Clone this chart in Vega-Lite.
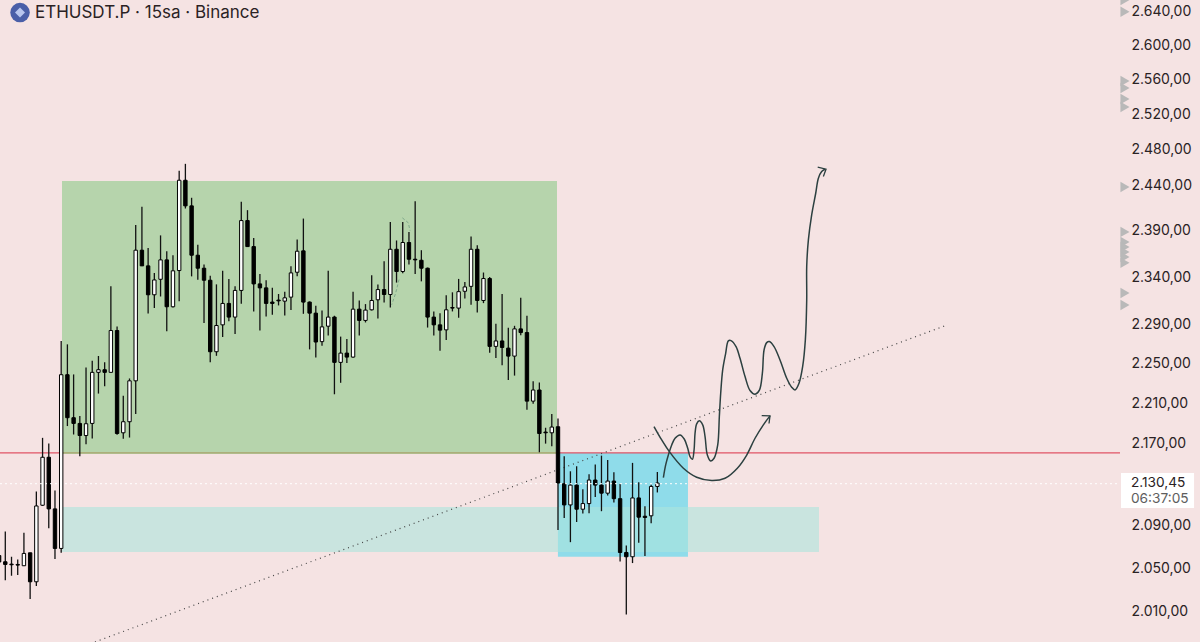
{
"$schema":"https://vega.github.io/schema/vega-lite/v6.json",
"width":1200,"height":642,"padding":0,"autosize":{"type":"none"},
"background":"#f5e3e3",
"config":{"view":{"stroke":null},"locale":{"number":{"decimal":",","thousands":".","grouping":[3],"currency":["",""]}}},
"resolve":{"axis":{"y":"independent"}},
"datasets":{
"candles":[
{"i":-1,"o":2062,"h":2067,"l":2053,"c":2056},
{"i":0,"o":2056.2,"h":2084.6,"l":2039,"c":2053.7},
{"i":1,"o":2054,"h":2060.9,"l":2043.2,"c":2053.4},
{"i":2,"o":2053.7,"h":2058.4,"l":2043.8,"c":2053.1},
{"i":3,"o":2052.5,"h":2083.6,"l":2052.2,"c":2064},
{"i":4,"o":2064.6,"h":2064.6,"l":2021.7,"c":2037.6},
{"i":5,"o":2037.6,"h":2122.9,"l":2033.8,"c":2109},
{"i":6,"o":2109.7,"h":2175.3,"l":2109,"c":2156.2},
{"i":7,"o":2156.2,"h":2169.6,"l":2087.8,"c":2106.2},
{"i":8,"o":2106.2,"h":2123.9,"l":2058.7,"c":2068.7},
{"i":9,"o":2068.7,"h":2273.2,"l":2064.6,"c":2238.6},
{"i":10,"o":2238.6,"h":2269.7,"l":2187,"c":2195.3},
{"i":11,"o":2195.3,"h":2238.9,"l":2178.6,"c":2189.6},
{"i":12,"o":2189.6,"h":2196.9,"l":2157.2,"c":2177.6},
{"i":13,"o":2177.6,"h":2246,"l":2169,"c":2189.3},
{"i":14,"o":2189.6,"h":2252.9,"l":2174.6,"c":2241},
{"i":15,"o":2241,"h":2257.7,"l":2219.5,"c":2243.7},
{"i":16,"o":2243.7,"h":2251.2,"l":2227,"c":2241},
{"i":17,"o":2241,"h":2330.3,"l":2241,"c":2284},
{"i":18,"o":2284,"h":2288.2,"l":2178.3,"c":2179.6},
{"i":19,"o":2180.3,"h":2217.4,"l":2174.3,"c":2191.3},
{"i":20,"o":2191.3,"h":2234.8,"l":2175.6,"c":2232.4},
{"i":21,"o":2232.4,"h":2396.2,"l":2199,"c":2368.9},
{"i":22,"o":2368.9,"h":2416,"l":2352.1,"c":2352.1},
{"i":23,"o":2352.1,"h":2371.4,"l":2301.8,"c":2321.4},
{"i":24,"o":2321.4,"h":2344.6,"l":2307.4,"c":2337.1},
{"i":25,"o":2337.8,"h":2384.9,"l":2319.6,"c":2358.5},
{"i":26,"o":2358.5,"h":2367.8,"l":2283.3,"c":2308.8},
{"i":27,"o":2308.8,"h":2363.5,"l":2308,"c":2346.8},
{"i":28,"o":2347.1,"h":2455.9,"l":2314.7,"c":2445.4},
{"i":29,"o":2445.4,"h":2463.7,"l":2414.2,"c":2417.1},
{"i":30,"o":2417.1,"h":2426,"l":2340.9,"c":2363.5},
{"i":31,"o":2363.5,"h":2374.7,"l":2337.4,"c":2349.6},
{"i":32,"o":2349.6,"h":2353.5,"l":2291.7,"c":2336.8},
{"i":33,"o":2336.8,"h":2341.6,"l":2251.2,"c":2262.1},
{"i":34,"o":2262.1,"h":2332.4,"l":2257.9,"c":2289.2},
{"i":35,"o":2289.9,"h":2346.8,"l":2277.4,"c":2312.3},
{"i":36,"o":2312.3,"h":2338.2,"l":2293.7,"c":2298},
{"i":37,"o":2298,"h":2330.3,"l":2280.4,"c":2326},
{"i":38,"o":2326,"h":2421.5,"l":2311.9,"c":2401},
{"i":39,"o":2401,"h":2412.4,"l":2372.6,"c":2372.8},
{"i":40,"o":2372.8,"h":2382,"l":2303.9,"c":2332.9},
{"i":41,"o":2332.9,"h":2343.5,"l":2284,"c":2328.7},
{"i":42,"o":2328.7,"h":2336.8,"l":2298.7,"c":2312.3},
{"i":43,"o":2313.7,"h":2328.7,"l":2300.4,"c":2312.3},
{"i":44,"o":2315.8,"h":2322.2,"l":2310.2,"c":2315},
{"i":45,"o":2314.7,"h":2324.7,"l":2299.7,"c":2318.2},
{"i":46,"o":2318.9,"h":2351.7,"l":2305.3,"c":2344.6},
{"i":47,"o":2345.3,"h":2380.5,"l":2340.9,"c":2367.8},
{"i":48,"o":2368.2,"h":2403.2,"l":2301.4,"c":2313.7},
{"i":49,"o":2313.7,"h":2314.4,"l":2264.5,"c":2302.1},
{"i":50,"o":2302.1,"h":2309.8,"l":2256.3,"c":2272.1},
{"i":51,"o":2272.5,"h":2304.9,"l":2268.2,"c":2287.8},
{"i":52,"o":2288.5,"h":2346.8,"l":2278.8,"c":2298},
{"i":53,"o":2298,"h":2299.4,"l":2218.8,"c":2251.2},
{"i":54,"o":2251.2,"h":2277.7,"l":2230.4,"c":2260.7},
{"i":55,"o":2260.7,"h":2275.3,"l":2250.5,"c":2256.6},
{"i":56,"o":2256.6,"h":2324.7,"l":2255.9,"c":2306.3},
{"i":57,"o":2306.3,"h":2315.4,"l":2278.8,"c":2294.5},
{"i":58,"o":2294.5,"h":2311.6,"l":2292.4,"c":2305.3},
{"i":59,"o":2305.6,"h":2342.1,"l":2304.9,"c":2315.4},
{"i":60,"o":2316.1,"h":2332.4,"l":2296.5,"c":2326.9},
{"i":61,"o":2326.9,"h":2357,"l":2313.3,"c":2321.7},
{"i":62,"o":2321.7,"h":2399.5,"l":2308,"c":2369.9},
{"i":63,"o":2369.9,"h":2379.4,"l":2334.3,"c":2346.1},
{"i":64,"o":2346.1,"h":2399.5,"l":2344.3,"c":2377.2},
{"i":65,"o":2377.2,"h":2388.5,"l":2353.5,"c":2359.2},
{"i":66,"o":2359.2,"h":2422.2,"l":2343.5,"c":2358.5},
{"i":67,"o":2358.1,"h":2368.9,"l":2335.6,"c":2349.6},
{"i":68,"o":2349.6,"h":2350.3,"l":2287.1,"c":2298},
{"i":69,"o":2298,"h":2303.9,"l":2278.8,"c":2289.9},
{"i":70,"o":2289.9,"h":2302.1,"l":2263.1,"c":2284.4},
{"i":71,"o":2284.7,"h":2321,"l":2274.2,"c":2305.6},
{"i":72,"o":2308,"h":2324,"l":2303.9,"c":2307.4},
{"i":73,"o":2307.4,"h":2338.2,"l":2297.3,"c":2324.7},
{"i":74,"o":2325.1,"h":2334.9,"l":2317.4,"c":2329.7},
{"i":75,"o":2330.3,"h":2383.8,"l":2310.9,"c":2369.9},
{"i":76,"o":2369.9,"h":2374.3,"l":2302.8,"c":2315.4},
{"i":77,"o":2315.4,"h":2345,"l":2312.6,"c":2338.6},
{"i":78,"o":2338.6,"h":2340.2,"l":2261.1,"c":2267.6},
{"i":79,"o":2267.6,"h":2291,"l":2255.6,"c":2273.2},
{"i":80,"o":2273.2,"h":2322.2,"l":2248.2,"c":2266.5},
{"i":81,"o":2265.8,"h":2286.8,"l":2233.2,"c":2257.6},
{"i":82,"o":2257.6,"h":2288.9,"l":2237.7,"c":2285.7},
{"i":83,"o":2285.7,"h":2318.2,"l":2279.1,"c":2281.9},
{"i":84,"o":2281.9,"h":2299.4,"l":2203.3,"c":2211.9},
{"i":85,"o":2211.9,"h":2232,"l":2209.3,"c":2223.1},
{"i":86,"o":2223.1,"h":2230.7,"l":2161.1,"c":2179.6},
{"i":87,"o":2181,"h":2185.3,"l":2169.6,"c":2180.3},
{"i":88,"o":2180.3,"h":2199,"l":2166.9,"c":2186},
{"i":89,"o":2186.3,"h":2194.6,"l":2086.2,"c":2131.1},
{"i":90,"o":2130.4,"h":2157.2,"l":2097.6,"c":2110},
{"i":91,"o":2110,"h":2142.5,"l":2074.6,"c":2129.1},
{"i":92,"o":2129.1,"h":2147.4,"l":2093.7,"c":2105.9},
{"i":93,"o":2105.9,"h":2125.2,"l":2101.8,"c":2111.3},
{"i":94,"o":2111.3,"h":2139.6,"l":2102.1,"c":2134},
{"i":95,"o":2134,"h":2149,"l":2117.7,"c":2129.1},
{"i":96,"o":2129.1,"h":2157.8,"l":2104,"c":2121.3},
{"i":97,"o":2121.3,"h":2153.6,"l":2119,"c":2133},
{"i":98,"o":2133,"h":2141.5,"l":2112.3,"c":2116},
{"i":99,"o":2116,"h":2130.1,"l":2056.5,"c":2064.9},
{"i":100,"o":2064.9,"h":2071.5,"l":2007.6,"c":2060.9},
{"i":101,"o":2060.9,"h":2150.7,"l":2055,"c":2116.7},
{"i":102,"o":2116.7,"h":2131.8,"l":2074,"c":2098.3},
{"i":103,"o":2099.2,"h":2108.8,"l":2061.5,"c":2098},
{"i":104,"o":2099.6,"h":2129.5,"l":2092.4,"c":2127.8},
{"i":105,"o":2127.8,"h":2141.8,"l":2122,"c":2131.1}
],
"curves":[
{"g":"a","n":1,"i":105.97,"p":2136.4},{"g":"a","n":2,"i":106.34,"p":2148.7},{"g":"a","n":3,"i":106.77,"p":2158.4},{"g":"a","n":4,"i":107.31,"p":2168.3},{"g":"a","n":5,"i":107.85,"p":2174.9},{"g":"a","n":6,"i":108.65,"p":2178.2},{"g":"a","n":7,"i":109.35,"p":2173.9},{"g":"a","n":8,"i":109.89,"p":2165},{"g":"a","n":9,"i":110.26,"p":2156.8},{"g":"a","n":10,"i":110.64,"p":2154.2},{"g":"a","n":11,"i":110.91,"p":2163.3},{"g":"a","n":12,"i":111.07,"p":2179.9},{"g":"a","n":13,"i":111.33,"p":2189.2},{"g":"a","n":14,"i":111.76,"p":2192.2},{"g":"a","n":15,"i":112.3,"p":2188.2},{"g":"a","n":16,"i":112.68,"p":2176.6},{"g":"a","n":17,"i":113.05,"p":2158.4},{"g":"a","n":18,"i":113.59,"p":2152.6},{"g":"a","n":19,"i":114.13,"p":2155.2},{"g":"a","n":20,"i":114.72,"p":2168.3},{"g":"a","n":21,"i":114.98,"p":2196.5},{"g":"a","n":22,"i":115.2,"p":2219.8},{"g":"a","n":23,"i":115.52,"p":2243.6},{"g":"a","n":24,"i":116,"p":2260.5},{"g":"a","n":25,"i":116.43,"p":2273.3},{"g":"a","n":26,"i":116.86,"p":2273.6},{"g":"a","n":27,"i":117.67,"p":2267.4},{"g":"a","n":28,"i":118.31,"p":2255.4},{"g":"a","n":29,"i":119.12,"p":2236.7},{"g":"a","n":30,"i":119.92,"p":2222.6},{"g":"a","n":31,"i":120.73,"p":2218.9},{"g":"a","n":32,"i":121.43,"p":2223},{"g":"a","n":33,"i":121.91,"p":2240.2},{"g":"a","n":34,"i":122.18,"p":2263.9},{"g":"a","n":35,"i":122.61,"p":2271.5},{"g":"a","n":36,"i":123.04,"p":2272.6},{"g":"a","n":37,"i":123.79,"p":2267.4},{"g":"a","n":38,"i":124.75,"p":2253.7},{"g":"a","n":39,"i":125.83,"p":2235},{"g":"a","n":40,"i":126.63,"p":2225.9},{"g":"a","n":41,"i":127.17,"p":2223.2},{"g":"a","n":42,"i":127.81,"p":2230},{"g":"a","n":43,"i":128.4,"p":2247},{"g":"a","n":44,"i":128.83,"p":2274.3},{"g":"a","n":45,"i":129.05,"p":2315.9},{"g":"a","n":46,"i":129.05,"p":2351.4},{"g":"a","n":47,"i":129.32,"p":2380},{"g":"a","n":48,"i":129.85,"p":2407.2},{"g":"a","n":49,"i":130.5,"p":2431},{"g":"a","n":50,"i":130.93,"p":2447.7},{"g":"a","n":51,"i":131.46,"p":2455.1},{"g":"a","n":52,"i":132,"p":2457.7},
{"g":"b","n":1,"i":104.46,"p":2186.5},{"g":"b","n":2,"i":105.7,"p":2173.2},{"g":"b","n":3,"i":106.93,"p":2161.7},{"g":"b","n":4,"i":109.19,"p":2145.5},{"g":"b","n":5,"i":111.33,"p":2136.7},{"g":"b","n":6,"i":113.75,"p":2133.5},{"g":"b","n":7,"i":115.9,"p":2135.7},{"g":"b","n":8,"i":117.88,"p":2145.5},{"g":"b","n":9,"i":119.39,"p":2158.4},{"g":"b","n":10,"i":120.73,"p":2174.9},{"g":"b","n":11,"i":122.07,"p":2188.2},{"g":"b","n":12,"i":123.14,"p":2197.1}
],
"arrows":[
{"g":"a","n":1,"i":130.82,"p":2459.9},{"g":"a","n":2,"i":132.16,"p":2457.7},{"g":"a","n":3,"i":131.73,"p":2449.5},
{"g":"b","n":1,"i":121.8,"p":2197.4},{"g":"b","n":2,"i":123.14,"p":2197.1},{"g":"b","n":3,"i":122.98,"p":2189.5},
{"g":"t","n":1,"i":14.44,"p":1982.6},{"g":"t","n":2,"i":151.3,"p":2288.9}
],
"faint":[
{"g":"a","n":1,"i":63.94,"p":2404},{"g":"a","n":2,"i":64.9,"p":2398.5},{"g":"a","n":3,"i":65.17,"p":2390},
{"g":"b","n":1,"i":63.4,"p":2337.5},{"g":"b","n":2,"i":62.87,"p":2323.3},{"g":"b","n":3,"i":62.22,"p":2310.9}
],
"markers":[{"p":2654},{"p":2640},{"p":2558.2},{"p":2550},{"p":2537.3},{"p":2528.1},{"p":2438},{"p":2388.7},{"p":2377.8},{"p":2372.4},{"p":2367},{"p":2361.7},{"p":2355.3},{"p":2323.3},{"p":2310.7}]
},
"layer":[
{"data":{"values":[{"a":9.13,"b":88.84,"p1":2444.6,"p2":2159.5}]},
 "mark":{"type":"rect","color":"#b6d4ac"},
 "encoding":{"x":{"field":"a","type":"quantitative","scale":{"domain":[-0.853,192.38],"nice":false,"zero":false,"padding":0},"axis":null},"x2":{"field":"b"},
  "y":{"field":"p1","type":"quantitative","scale":{"type":"log","domain":[1982.6,2654.1],"nice":false,"zero":false},
   "axis":{"orient":"right","offset":-69,"title":null,"domain":false,"ticks":false,"grid":false,"labelPadding":0,"labelAlign":"left","labelFont":"Inter","labelFontSize":14,"labelColor":"#2a2224","labelOverlap":false,"labelFlush":false,"labelBound":false,
    "values":[2010,2050,2090,2170,2210,2250,2290,2340,2390,2440,2480,2520,2560,2600,2640],
    "format":",.2f"}},"y2":{"field":"p2"}}},
{"data":{"values":[{"a":88.99,"b":109.93,"p1":2160.5,"p2":2060.8}]},
 "mark":{"type":"rect","color":"#8fdcea"},
 "encoding":{"x":{"field":"a","type":"quantitative","scale":{"domain":[-0.853,192.38],"nice":false,"zero":false,"padding":0},"axis":null},"x2":{"field":"b"},
  "y":{"field":"p1","type":"quantitative","scale":{"type":"log","domain":[1982.6,2654.1],"nice":false,"zero":false},"axis":null},"y2":{"field":"p2"}}},
{"data":{"values":[{"a":9.13,"b":131.03,"p1":2108,"p2":2065.4}]},
 "mark":{"type":"rect","color":"#ace4dc","opacity":0.6},
 "encoding":{"x":{"field":"a","type":"quantitative","scale":{"domain":[-0.853,192.38],"nice":false,"zero":false,"padding":0},"axis":null},"x2":{"field":"b"},
  "y":{"field":"p1","type":"quantitative","scale":{"type":"log","domain":[1982.6,2654.1],"nice":false,"zero":false},"axis":null},"y2":{"field":"p2"}}},
{"data":{"values":[{"a":-0.853,"b":9.13,"p":2160.5},{"a":88.84,"b":179.5,"p":2160.5}]},
 "mark":{"type":"rule","color":"#e05566","strokeWidth":1.3},
 "encoding":{"x":{"field":"a","type":"quantitative","scale":{"domain":[-0.853,192.38],"nice":false,"zero":false,"padding":0},"axis":null},"x2":{"field":"b"},
  "y":{"field":"p","type":"quantitative","scale":{"type":"log","domain":[1982.6,2654.1],"nice":false,"zero":false},"axis":null}}},
{"data":{"values":[{"a":9.13,"b":88.84,"p":2160.5}]},
 "mark":{"type":"rule","color":"#a9a26a","strokeWidth":1.3},
 "encoding":{"x":{"field":"a","type":"quantitative","scale":{"domain":[-0.853,192.38],"nice":false,"zero":false,"padding":0},"axis":null},"x2":{"field":"b"},
  "y":{"field":"p","type":"quantitative","scale":{"type":"log","domain":[1982.6,2654.1],"nice":false,"zero":false},"axis":null}}},
{"data":{"name":"arrows"},"transform":[{"filter":"datum.g==='t'"}],
 "mark":{"type":"line","color":"#444444","strokeWidth":1.2,"strokeDash":[1,4]},
 "encoding":{"x":{"field":"i","type":"quantitative","scale":{"domain":[-0.853,192.38],"nice":false,"zero":false,"padding":0},"axis":null},
  "y":{"field":"p","type":"quantitative","scale":{"type":"log","domain":[1982.6,2654.1],"nice":false,"zero":false},"axis":null}}},
{"data":{"name":"faint"},
 "mark":{"type":"line","color":"#7fa88a","strokeWidth":1,"strokeDash":[3,2]},
 "encoding":{"x":{"field":"i","type":"quantitative","scale":{"domain":[-0.853,192.38],"nice":false,"zero":false,"padding":0},"axis":null},
  "y":{"field":"p","type":"quantitative","scale":{"type":"log","domain":[1982.6,2654.1],"nice":false,"zero":false},"axis":null},
  "detail":{"field":"g"},"order":{"field":"n"}}},
{"data":{"name":"candles"},
 "mark":{"type":"rule","color":"#111111","strokeWidth":1.3},
 "encoding":{"x":{"field":"i","type":"quantitative","scale":{"domain":[-0.853,192.38],"nice":false,"zero":false,"padding":0},"axis":null},
  "y":{"field":"l","type":"quantitative","scale":{"type":"log","domain":[1982.6,2654.1],"nice":false,"zero":false},"axis":null},"y2":{"field":"h"}}},
{"data":{"name":"candles"},
 "mark":{"type":"bar","size":3.4,"stroke":"#000000","strokeWidth":1},
 "encoding":{"x":{"field":"i","type":"quantitative","scale":{"domain":[-0.853,192.38],"nice":false,"zero":false,"padding":0},"axis":null},
  "y":{"field":"o","type":"quantitative","scale":{"type":"log","domain":[1982.6,2654.1],"nice":false,"zero":false},"axis":null},"y2":{"field":"c"},
  "color":{"condition":{"test":"datum.c>datum.o","value":"#ffffff"},"value":"#000000"}}},
{"data":{"values":[{"a":-0.853,"b":179.5,"p":2130.45}]},
 "mark":{"type":"rule","color":"#ffffff","strokeWidth":1,"strokeDash":[2,3]},
 "encoding":{"x":{"field":"a","type":"quantitative","scale":{"domain":[-0.853,192.38],"nice":false,"zero":false,"padding":0},"axis":null},"x2":{"field":"b"},
  "y":{"field":"p","type":"quantitative","scale":{"type":"log","domain":[1982.6,2654.1],"nice":false,"zero":false},"axis":null}}},
{"data":{"name":"curves"},
 "mark":{"type":"line","color":"#2c4040","strokeWidth":1.5,"interpolate":"catmull-rom"},
 "encoding":{"x":{"field":"i","type":"quantitative","scale":{"domain":[-0.853,192.38],"nice":false,"zero":false,"padding":0},"axis":null},
  "y":{"field":"p","type":"quantitative","scale":{"type":"log","domain":[1982.6,2654.1],"nice":false,"zero":false},"axis":null},
  "detail":{"field":"g"},"order":{"field":"n"}}},
{"data":{"name":"arrows"},"transform":[{"filter":"datum.g!=='t'"}],
 "mark":{"type":"line","color":"#2c4040","strokeWidth":1.3},
 "encoding":{"x":{"field":"i","type":"quantitative","scale":{"domain":[-0.853,192.38],"nice":false,"zero":false,"padding":0},"axis":null},
  "y":{"field":"p","type":"quantitative","scale":{"type":"log","domain":[1982.6,2654.1],"nice":false,"zero":false},"axis":null},
  "detail":{"field":"g"},"order":{"field":"n"}}},
{"data":{"name":"markers"},
 "mark":{"type":"point","shape":"triangle-right","filled":true,"color":"#b9b9b9","opacity":1,"size":110},
 "encoding":{"x":{"datum":180.3,"type":"quantitative","scale":{"domain":[-0.853,192.38],"nice":false,"zero":false,"padding":0},"axis":null},
  "y":{"field":"p","type":"quantitative","scale":{"type":"log","domain":[1982.6,2654.1],"nice":false,"zero":false},"axis":null}}},
{"data":{"values":[{"a":179.66,"b":191.42,"p1":2140.9,"p2":2107.1}]},
 "mark":{"type":"rect","color":"#ffffff"},
 "encoding":{"x":{"field":"a","type":"quantitative","scale":{"domain":[-0.853,192.38],"nice":false,"zero":false,"padding":0},"axis":null},"x2":{"field":"b"},
  "y":{"field":"p1","type":"quantitative","scale":{"type":"log","domain":[1982.6,2654.1],"nice":false,"zero":false},"axis":null},"y2":{"field":"p2"}}},
{"data":{"values":[{"t":"2.130,45","i":181.25,"p":2131,"k":"a"},{"t":"06:37:05","i":181.25,"p":2116,"k":"b"}]},
 "mark":{"type":"text","align":"left","baseline":"middle","font":"Inter","fontSize":13.7},
 "encoding":{"x":{"field":"i","type":"quantitative","scale":{"domain":[-0.853,192.38],"nice":false,"zero":false,"padding":0},"axis":null},
  "y":{"field":"p","type":"quantitative","scale":{"type":"log","domain":[1982.6,2654.1],"nice":false,"zero":false},"axis":null},
  "text":{"field":"t"},
  "color":{"condition":{"test":"datum.k==='a'","value":"#2a2224"},"value":"#5e5e5e"}}},
{"data":{"values":[{"i":2.37,"p":2639}]},
 "mark":{"type":"point","shape":"circle","filled":true,"color":"#4a5fa8","opacity":1,"size":380},
 "encoding":{"x":{"field":"i","type":"quantitative","scale":{"domain":[-0.853,192.38],"nice":false,"zero":false,"padding":0},"axis":null},
  "y":{"field":"p","type":"quantitative","scale":{"type":"log","domain":[1982.6,2654.1],"nice":false,"zero":false},"axis":null}}},
{"data":{"values":[{"i":2.37,"p":2639}]},
 "mark":{"type":"point","shape":"diamond","filled":true,"color":"#b8c6ee","opacity":1,"size":100},
 "encoding":{"x":{"field":"i","type":"quantitative","scale":{"domain":[-0.853,192.38],"nice":false,"zero":false,"padding":0},"axis":null},
  "y":{"field":"p","type":"quantitative","scale":{"type":"log","domain":[1982.6,2654.1],"nice":false,"zero":false},"axis":null}}},
{"data":{"values":[{"t":"ETHUSDT.P · 15sa · Binance","i":4.78,"p":2639}]},
 "mark":{"type":"text","align":"left","baseline":"middle","font":"Inter","fontSize":17,"color":"#2a2224"},
 "encoding":{"x":{"field":"i","type":"quantitative","scale":{"domain":[-0.853,192.38],"nice":false,"zero":false,"padding":0},"axis":null},
  "y":{"field":"p","type":"quantitative","scale":{"type":"log","domain":[1982.6,2654.1],"nice":false,"zero":false},"axis":null},
  "text":{"field":"t"}}}
]
}
